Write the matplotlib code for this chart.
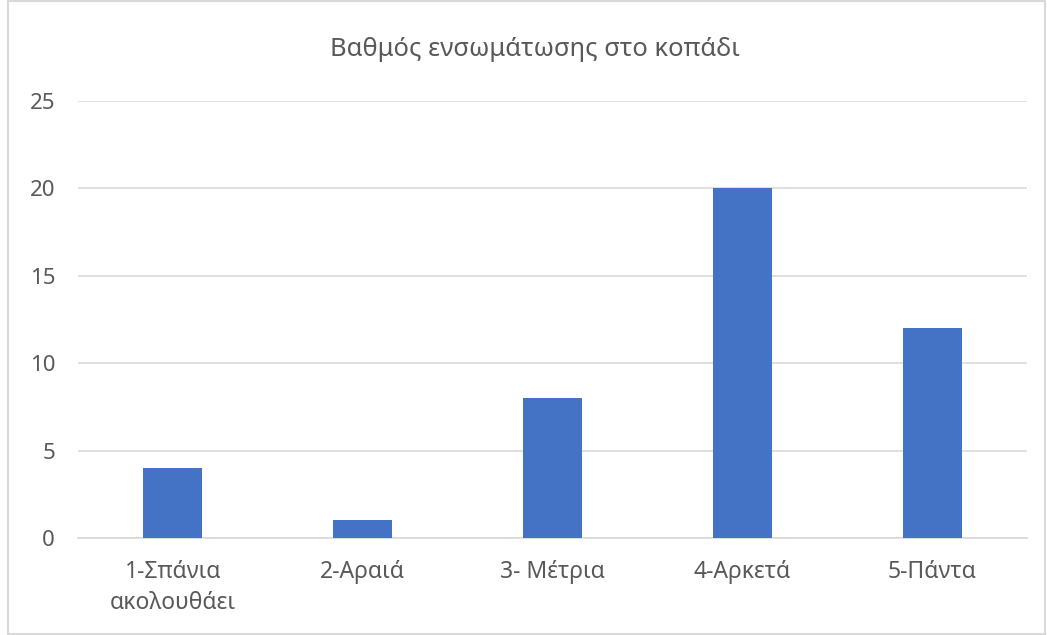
import matplotlib
matplotlib.use("Agg")
import matplotlib.pyplot as plt
from matplotlib.patches import Rectangle

plt.rcParams['font.family'] = ['Noto Sans', 'DejaVu Sans']

categories = ["1-Σπάνια\nακολουθάει", "2-Αραιά", "3- Μέτρια", "4-Αρκετά", "5-Πάντα"]
values = [4, 1, 8, 20, 12]
yticks = [0, 5, 10, 15, 20, 25]
title = "Βαθμός ενσωμάτωσης στο κοπάδι"

fig = plt.figure(figsize=(10.47, 6.35), dpi=100)
ax = fig.add_axes([0.0745, 0.1528, 0.9065, 0.6882])
x = range(len(categories))
ax.bar(x, values, width=0.31, color="#4472C4", zorder=3)
ax.set_xlim(-0.5, len(categories) - 0.5)
ax.set_ylim(0, 25)
ax.set_yticks(yticks)
ax.set_xticks(list(x))
ax.set_xticklabels(categories, fontsize=16.5, color="#595959", linespacing=1.4)
ax.tick_params(axis="y", labelsize=16, labelcolor="#595959", length=0, pad=16.5)
ax.tick_params(axis="x", length=0, pad=16)
ax.grid(axis="y", color="#d9d9d9", linewidth=1.2, zorder=0)
for s in ["top", "right", "left"]:
    ax.spines[s].set_visible(False)
ax.spines["bottom"].set_color("#d9d9d9")
ax.spines["bottom"].set_linewidth(1.2)
fig.text(535 / 1047, 1 - 49 / 635, title, ha="center", va="center", fontsize=18.4, color="#595959")
fig.patches.append(Rectangle((8 / 1047, 0.002), 1 - 8 / 1047 - 0.002, 0.996, transform=fig.transFigure,
                             fill=False, edgecolor="#d9d9d9", linewidth=1.5))
fig.savefig("out.png", dpi=100)
